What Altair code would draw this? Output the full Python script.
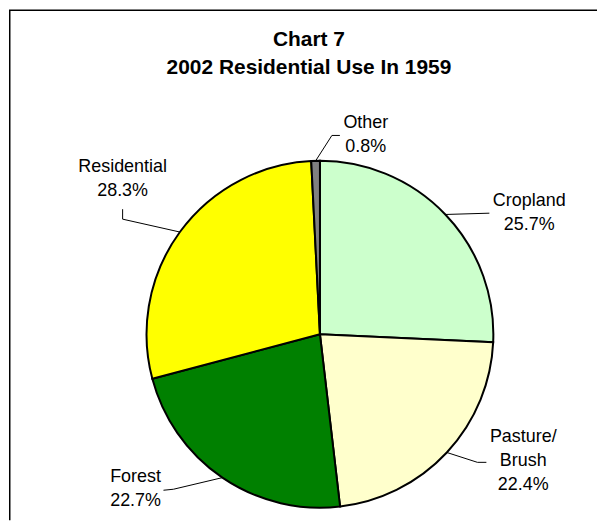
import math
import altair as alt
import pandas as pd

# ---- data ----
categories = ["Cropland", "Pasture/Brush", "Forest", "Residential", "Other"]
label_lines = [["Cropland"], ["Pasture/", "Brush"], ["Forest"], ["Residential"], ["Other"]]
values = [25.7, 22.4, 22.7, 28.3, 0.8]
colors = ["#CCFFCC", "#FFFFCC", "#008000", "#FFFF00", "#808080"]
title_lines = ["Chart 7", "2002 Residential Use In 1959"]

# ---- layout (pixels inside the plot area) ----
W, H = 590, 513
CX, CY, R = 312, 326.5, 174
label_anchor = [(522, 193), (516, 430), (127, 470), (114, 159), (358, 115)]
line_gap = 24
leader_bends = [[(482, 205)], [(470, 455), (479, 455)], [(165, 482), (155, 483)],
                [(114, 211), (114, 201)], [(324, 127), (332, 127)]]
title_pos = (301, 31)
title_gap = 28
FONT = "Liberation Sans"

pie_df = pd.DataFrame({"category": categories, "value": values,
                       "order": list(range(len(categories)))})

# text rows
txt_rows = []
for i, cat in enumerate(categories):
    lines = label_lines[i] + [f"{values[i]}%"]
    ax, ay = label_anchor[i]
    for j, t in enumerate(lines):
        txt_rows.append({"text": t, "x": ax, "y": ay + j * line_gap})
txt_df = pd.DataFrame(txt_rows)

# leader lines: start on the pie edge at the slice's mid angle
total = sum(values)
line_rows = []
cum = 0.0
for i, cat in enumerate(categories):
    mid = (cum + values[i] / 2) / total * 2 * math.pi
    cum += values[i]
    pts = [(CX + R * math.sin(mid), CY - R * math.cos(mid))] + leader_bends[i]
    for k, (px, py) in enumerate(pts):
        line_rows.append({"category": cat, "idx": k, "x": px, "y": py})
line_df = pd.DataFrame(line_rows)

title_df = pd.DataFrame({"text": title_lines,
                         "x": [title_pos[0]] * len(title_lines),
                         "y": [title_pos[1] + k * title_gap for k in range(len(title_lines))]})

one = pd.DataFrame({"a": [0]})

pie = alt.Chart(pie_df).mark_arc(radius=R, stroke="black", strokeWidth=2).encode(
    theta=alt.Theta("value:Q", stack=True),
    order=alt.Order("order:Q"),
    color=alt.Color("category:N", scale=alt.Scale(domain=categories, range=colors), legend=None),
    x=alt.value(CX),
    y=alt.value(CY),
)

leaders = alt.Chart(line_df).mark_line(color="black", strokeWidth=1).encode(
    x=alt.X("x:Q", scale=None, axis=None),
    y=alt.Y("y:Q", scale=None, axis=None),
    detail="category:N",
    order="idx:Q",
)

labels = alt.Chart(txt_df).mark_text(font=FONT, fontSize=18, color="black",
                                     align="center", baseline="middle").encode(
    x=alt.X("x:Q", scale=None, axis=None),
    y=alt.Y("y:Q", scale=None, axis=None),
    text="text:N",
)

titles = alt.Chart(title_df).mark_text(font=FONT, fontSize=21, fontWeight="bold", color="black",
                                       align="center", baseline="middle").encode(
    x=alt.X("x:Q", scale=None, axis=None),
    y=alt.Y("y:Q", scale=None, axis=None),
    text="text:N",
)

frame_top = alt.Chart(one).mark_rule(color="black", strokeWidth=1.5).encode(
    x=alt.value(0), x2=alt.value(W), y=alt.value(1.5))
frame_left = alt.Chart(one).mark_rule(color="black", strokeWidth=1.5).encode(
    x=alt.value(0.75), y=alt.value(1.5), y2=alt.value(H))

chart = alt.layer(pie, leaders, labels, titles, frame_top, frame_left).properties(
    width=W, height=H, padding=0, background="white"
).configure_view(stroke=None)

chart.save("out.html", embed_options={"renderer": "svg", "actions": False})
